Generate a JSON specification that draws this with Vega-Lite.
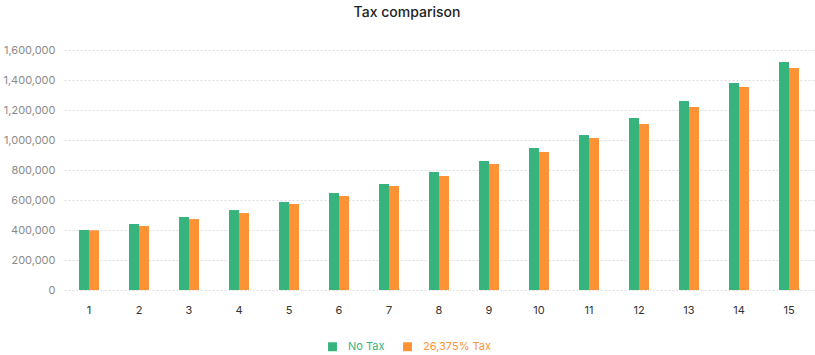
{
  "$schema": "https://vega.github.io/schema/vega-lite/v6.json",
  "autosize": "none",
  "width": 750,
  "height": 240,
  "padding": {"left": 64, "top": 50, "right": 1, "bottom": 65},
  "background": "white",
  "title": {
    "text": "Tax comparison",
    "font": "Inter",
    "fontSize": 14,
    "fontWeight": 500,
    "color": "#222222",
    "anchor": "middle",
    "dx": -32,
    "offset": 24
  },
  "data": {
    "values": [
      {"year": 1, "series": "No Tax", "value": 400000},
      {"year": 1, "series": "26,375% Tax", "value": 398000},
      {"year": 2, "series": "No Tax", "value": 440000},
      {"year": 2, "series": "26,375% Tax", "value": 427000},
      {"year": 3, "series": "No Tax", "value": 487000},
      {"year": 3, "series": "26,375% Tax", "value": 473000},
      {"year": 4, "series": "No Tax", "value": 533000},
      {"year": 4, "series": "26,375% Tax", "value": 513000},
      {"year": 5, "series": "No Tax", "value": 587000},
      {"year": 5, "series": "26,375% Tax", "value": 573000},
      {"year": 6, "series": "No Tax", "value": 647000},
      {"year": 6, "series": "26,375% Tax", "value": 627000},
      {"year": 7, "series": "No Tax", "value": 707000},
      {"year": 7, "series": "26,375% Tax", "value": 693000},
      {"year": 8, "series": "No Tax", "value": 787000},
      {"year": 8, "series": "26,375% Tax", "value": 760000},
      {"year": 9, "series": "No Tax", "value": 860000},
      {"year": 9, "series": "26,375% Tax", "value": 840000},
      {"year": 10, "series": "No Tax", "value": 947000},
      {"year": 10, "series": "26,375% Tax", "value": 920000},
      {"year": 11, "series": "No Tax", "value": 1033000},
      {"year": 11, "series": "26,375% Tax", "value": 1013000},
      {"year": 12, "series": "No Tax", "value": 1147000},
      {"year": 12, "series": "26,375% Tax", "value": 1107000},
      {"year": 13, "series": "No Tax", "value": 1260000},
      {"year": 13, "series": "26,375% Tax", "value": 1220000},
      {"year": 14, "series": "No Tax", "value": 1380000},
      {"year": 14, "series": "26,375% Tax", "value": 1353000},
      {"year": 15, "series": "No Tax", "value": 1520000},
      {"year": 15, "series": "26,375% Tax", "value": 1480000}
    ]
  },
  "mark": {"type": "bar"},
  "encoding": {
    "x": {
      "field": "year",
      "type": "ordinal",
      "scale": {"paddingInner": 0.6, "paddingOuter": 0.3},
      "axis": {
        "title": null,
        "labelAngle": 0,
        "ticks": false,
        "domain": false,
        "grid": false,
        "labelPadding": 14,
        "labelFont": "Inter",
        "labelFontSize": 11,
        "labelColor": "#333333"
      }
    },
    "xOffset": {
      "field": "series",
      "type": "nominal",
      "sort": ["No Tax", "26,375% Tax"],
      "scale": {"paddingInner": 0, "paddingOuter": 0}
    },
    "y": {
      "field": "value",
      "type": "quantitative",
      "scale": {"domain": [0, 1600000], "nice": false},
      "axis": {
        "title": null,
        "values": [0, 200000, 400000, 600000, 800000, 1000000, 1200000, 1400000, 1600000],
        "format": ",.0f",
        "ticks": false,
        "domain": false,
        "labelPadding": 9,
        "labelFont": "Inter",
        "labelFontSize": 11,
        "labelColor": "#8a8a8a",
        "gridColor": "#dddddd",
        "gridDash": [2, 2],
        "gridWidth": 1
      }
    },
    "color": {
      "field": "series",
      "type": "nominal",
      "sort": ["No Tax", "26,375% Tax"],
      "scale": {"domain": ["No Tax", "26,375% Tax"], "range": ["#37b47e", "#fd9335"]},
      "legend": {
        "title": null,
        "orient": "none",
        "direction": "horizontal",
        "legendX": 263,
        "legendY": 291,
        "symbolType": "square",
        "symbolSize": 80,
        "symbolStrokeWidth": 0,
        "columnPadding": 17,
        "labelOffset": 10,
        "labelFont": "Inter",
        "labelFontSize": 11,
        "labelColor": {"expr": "datum.label == 'No Tax' ? '#37b47e' : '#fd9335'"}
      }
    }
  },
  "config": {
    "view": {"stroke": null}
  }
}
